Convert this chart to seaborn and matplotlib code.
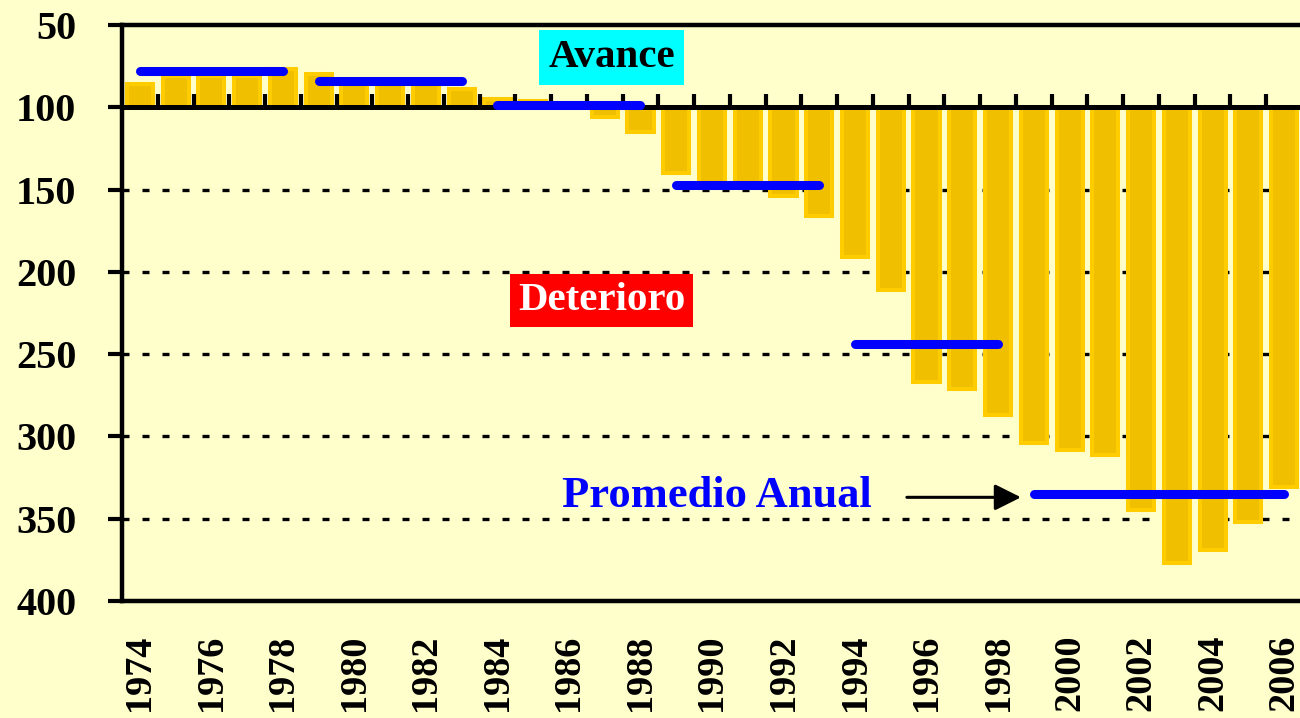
import numpy as np
import pandas as pd
import seaborn as sns
import matplotlib.pyplot as plt

# annual index values (100 = base, axis inverted)
years = list(range(1974, 2007))
values = [86, 81, 81, 81, 77, 80, 85, 85, 85, 89, 95, 96, 98, 106, 115,
          140, 148, 148, 154, 166, 191, 211, 267, 271, 287, 304, 308, 311,
          345, 377, 369, 352, 331]

# period averages ("Promedio Anual")
period_start = [1974, 1979, 1984, 1989, 1994, 1999]
period_end = [1978, 1983, 1988, 1993, 1998, 2006]
period_avg = [78, 84, 98.5, 147, 244, 335]

y_ticks = [50, 100, 150, 200, 250, 300, 350, 400]
grid_levels = [150, 200, 250, 300, 350]
base = 100

bg = '#FFFFCC'
sns.set_style('ticks', {'axes.facecolor': bg, 'figure.facecolor': bg})
plt.rcParams['font.family'] = ['Liberation Serif', 'DejaVu Serif']
plt.rcParams['font.weight'] = 'bold'
plt.rcParams['text.color'] = 'black'
plt.rcParams['xtick.color'] = 'black'
plt.rcParams['ytick.color'] = 'black'

df = pd.DataFrame({'year': [str(y) for y in years], 'value': values})
df['offset'] = df['value'] - base

fig = plt.figure(figsize=(13, 7.18), dpi=100)
ax = fig.add_axes([122 / 1300, 1 - 601 / 718, 1180 / 1300, 576 / 718])

# dotted grid behind bars
for g in grid_levels:
    ax.axhline(g, color='black', lw=2.4, linestyle=(0, (2.1, 3.9)), zorder=0.5)

sns.barplot(data=df, x='year', y='offset', bottom=base, order=df['year'],
            width=0.73, color='#F0C000', edgecolor='#FFCC00', linewidth=2.9,
            saturation=1, errorbar=None, ax=ax, zorder=2)

# baseline at 100 with tick marks between categories
ax.axhline(base, color='black', lw=3.6, zorder=4)
ax.vlines(np.arange(0.5, len(years) - 1, 1), base - 8, base, color='black',
          lw=3, zorder=4)

# period average lines
xs = [years.index(s) for s in period_start]
xe = [years.index(e) for e in period_end]
lc = ax.hlines(period_avg, xs, xe, color='#0000FF', lw=6.5, zorder=5)
lc.set_capstyle('round')

ax.set_ylim(400, 50)
ax.set_xlim(-0.5, len(years) - 0.5)
ax.set_yticks(y_ticks)
ax.set_yticklabels([str(t) for t in y_ticks], fontsize=29, fontweight='bold',
                   color='black')
ax.set_xticks(range(0, len(years), 2))
ax.set_xticklabels(years[::2], rotation=90, fontsize=27.5, fontweight='bold',
                   color='black')
ax.tick_params(axis='y', length=10, width=3, pad=23, direction='out',
               color='black')
ax.tick_params(axis='x', length=0, pad=24)
ax.set_xlabel('')
ax.set_ylabel('')

for side in ['left', 'top', 'bottom']:
    ax.spines[side].set_linewidth(3.2)
    ax.spines[side].set_color('black')
ax.spines['right'].set_visible(False)

# annotations
ax.text(13.19, 75.5, 'Avance', fontsize=29.5, fontweight='bold', color='black',
        ha='center', va='baseline', zorder=6,
        bbox=dict(boxstyle='square,pad=0.22', facecolor='#00FFFF', edgecolor='none'))
ax.text(12.91, 223, 'Deterioro', fontsize=29.5, fontweight='bold', color='white',
        ha='center', va='baseline', zorder=6,
        bbox=dict(boxstyle='square,pad=0.2', facecolor='#FF0000', edgecolor='none'))
ax.text(16.13, 343, 'Promedio Anual', fontsize=32, fontweight='bold',
        color='#0000FF', ha='center', va='baseline', zorder=6)
ax.annotate('', xy=(24.64, 337), xytext=(21.45, 337), zorder=6,
            arrowprops=dict(arrowstyle='-|>,head_length=0.8,head_width=0.4',
                            mutation_scale=20, lw=2.2, color='black',
                            shrinkA=0, shrinkB=0))

fig.savefig('out.png', dpi=100, facecolor=bg)
